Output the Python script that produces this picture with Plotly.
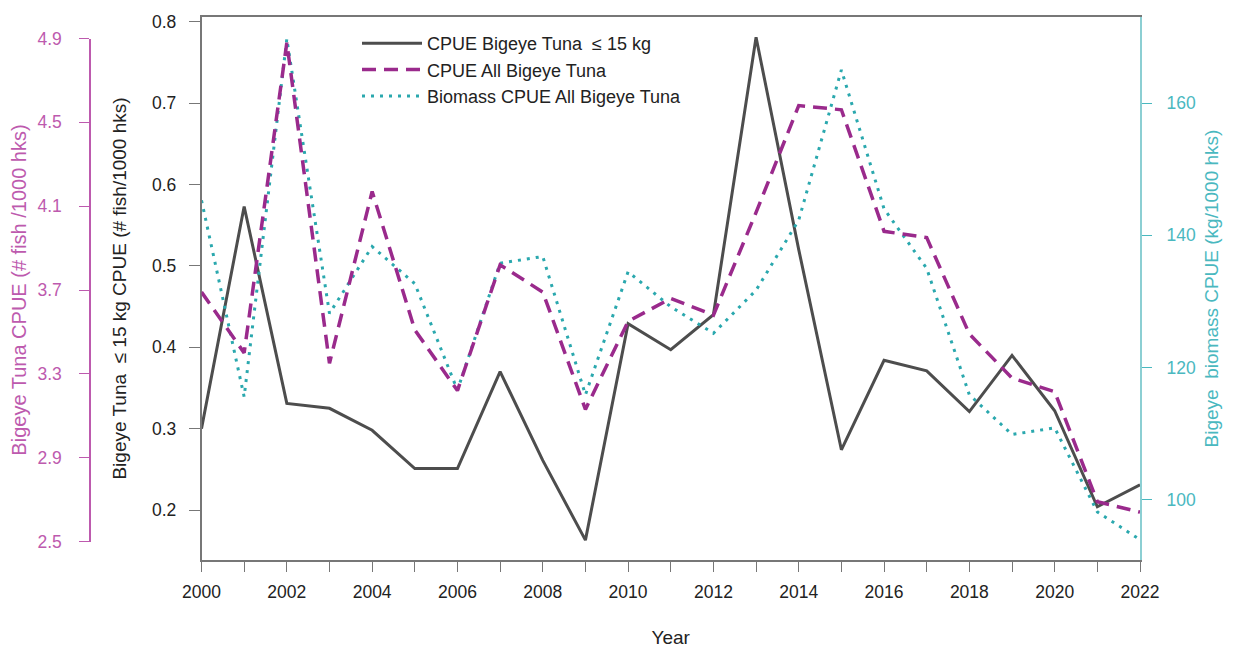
import plotly.graph_objects as go

years = list(range(2000, 2023))
cpue_small = [0.300, 0.573, 0.331, 0.325, 0.298, 0.251, 0.251, 0.370, 0.261, 0.163,
              0.429, 0.397, 0.440, 0.781, 0.520, 0.274, 0.384, 0.371, 0.321, 0.390,
              0.322, 0.204, 0.231]
cpue_all = [3.69, 3.40, 4.88, 3.35, 4.17, 3.51, 3.22, 3.82, 3.69, 3.13,
            3.55, 3.66, 3.58, 4.07, 4.58, 4.56, 3.98, 3.95, 3.49, 3.28,
            3.215, 2.69, 2.64]
biomass = [145.3, 115.6, 169.7, 128.2, 138.3, 132.7, 116.6, 135.8, 136.8, 115.9,
           134.5, 129.2, 125.2, 131.7, 142.3, 165.0, 144.0, 135.0, 115.9, 109.9,
           110.9, 98.2, 94.0]
x_tick_vals = years
x_tick_text = [str(y) if y % 2 == 0 else "" for y in years]
left_ticks = [0.2, 0.3, 0.4, 0.5, 0.6, 0.7, 0.8]
outer_ticks = [2.5, 2.9, 3.3, 3.7, 4.1, 4.5, 4.9]
right_ticks = [100, 120, 140, 160]

# the page adds an 8px body margin; figure coordinates = page coordinates - 8
OFF = 8
W, H = 1233 - OFF, 648 - OFF
ML = 40 - OFF
PLOT_R = 1140 - OFF
PLOT_T = 17 - OFF
PLOT_B = 560 - OFF
MR = W - PLOT_R
MT = PLOT_T
MB = H - PLOT_B
PW = W - ML - MR
PH = H - MT - MB

def fx(page_x):
    return (page_x - OFF - ML) / PW

def fy(page_y):
    return (H - MB - (page_y - OFF)) / PH

BLACK = "#4d4d4d"
MAG = "#9a2a8c"
MAG_TXT = "#bd5aae"
CYAN = "#2aa8ae"
CYAN_TXT = "#4ab8bf"
AX = "#777777"
FONT = "Liberation Sans, Arial, sans-serif"

fig = go.Figure()
fig.add_trace(go.Scatter(x=years, y=biomass, yaxis="y3", mode="lines",
                         name="Biomass CPUE All Bigeye Tuna", legendrank=3,
                         line=dict(color=CYAN, width=3, dash="3px,6px")))
fig.add_trace(go.Scatter(x=years, y=cpue_all, yaxis="y2", mode="lines",
                         name="CPUE All Bigeye Tuna", legendrank=2,
                         line=dict(color=MAG, width=3.5, dash="14px,8px")))
fig.add_trace(go.Scatter(x=years, y=cpue_small, yaxis="y", mode="lines",
                         name="CPUE Bigeye Tuna  \u2264 15 kg", legendrank=1,
                         line=dict(color=BLACK, width=3)))

fig.update_layout(
    width=W, height=H,
    margin=dict(l=ML, r=MR, t=MT, b=MB, pad=0, autoexpand=False),
    paper_bgcolor="white", plot_bgcolor="rgba(0,0,0,0)",
    font=dict(family=FONT, size=17, color="#222222"),
    showlegend=True,
    legend=dict(x=fx(357), y=fy(25), xanchor="left", yanchor="top",
                bgcolor="rgba(0,0,0,0)", font=dict(size=18, color="#222222"),
                tracegroupgap=0, itemwidth=60),
    xaxis=dict(domain=[fx(201.5), 1], range=[2000, 2022], automargin=False,
               tickmode="array", tickvals=x_tick_vals, ticktext=x_tick_text,
               ticks="outside", ticklen=10, tickcolor=AX, tickwidth=1.3,
               ticklabelstandoff=5,
               showline=True, linecolor=AX, linewidth=1.5, mirror=True,
               showgrid=False, zeroline=False,
               tickfont=dict(size=17.5, color="#222222"),
               title=dict(text="Year", standoff=30, font=dict(size=19))),
    yaxis=dict(anchor="x", range=[0.1386, 0.8058], automargin=False,
               tickmode="array", tickvals=left_ticks,
               ticktext=[f"{v:.1f}" for v in left_ticks],
               ticks="outside", ticklen=11, tickcolor=AX, tickwidth=1.3,
               ticklabelstandoff=9,
               showline=True, linecolor=AX, linewidth=1.5,
               showgrid=False, zeroline=False,
               tickfont=dict(size=17.5, color="#222222"),
               title=dict(text="Bigeye Tuna  \u2264 15 kg CPUE (# fish/1000 hks)",
                          standoff=20, font=dict(size=19, color="#222222"))),
    yaxis2=dict(anchor="free", position=fx(90), side="left", automargin=False,
                domain=[fy(541.5), fy(38.5)], range=[2.5, 4.9],
                tickmode="array", tickvals=outer_ticks,
                ticktext=[f"{v:.1f}" for v in outer_ticks],
                ticks="outside", ticklen=10, tickcolor=MAG_TXT, tickwidth=1.3,
                ticklabelstandoff=14,
                showline=True, linecolor=MAG_TXT, linewidth=1.5,
                showgrid=False, zeroline=False,
                tickfont=dict(size=17.5, color=MAG_TXT),
                title=dict(text="Bigeye Tuna CPUE (# fish /1000 hks)",
                           standoff=8, font=dict(size=20, color=MAG_TXT))),
    yaxis3=dict(anchor="x", overlaying="y", side="right", range=[90.93, 173.0],
                automargin=False,
                tickmode="array", tickvals=right_ticks,
                ticks="outside", ticklen=10, tickcolor=CYAN_TXT, tickwidth=1.3,
                ticklabelstandoff=11,
                showline=True, linecolor="#8ccfd3", linewidth=2,
                showgrid=False, zeroline=False,
                tickfont=dict(size=17.5, color=CYAN_TXT),
                title=dict(text="Bigeye  biomass CPUE (kg/1000 hks)",
                           standoff=10, font=dict(size=19, color=CYAN_TXT))),
)

fig.write_html("out.html")
